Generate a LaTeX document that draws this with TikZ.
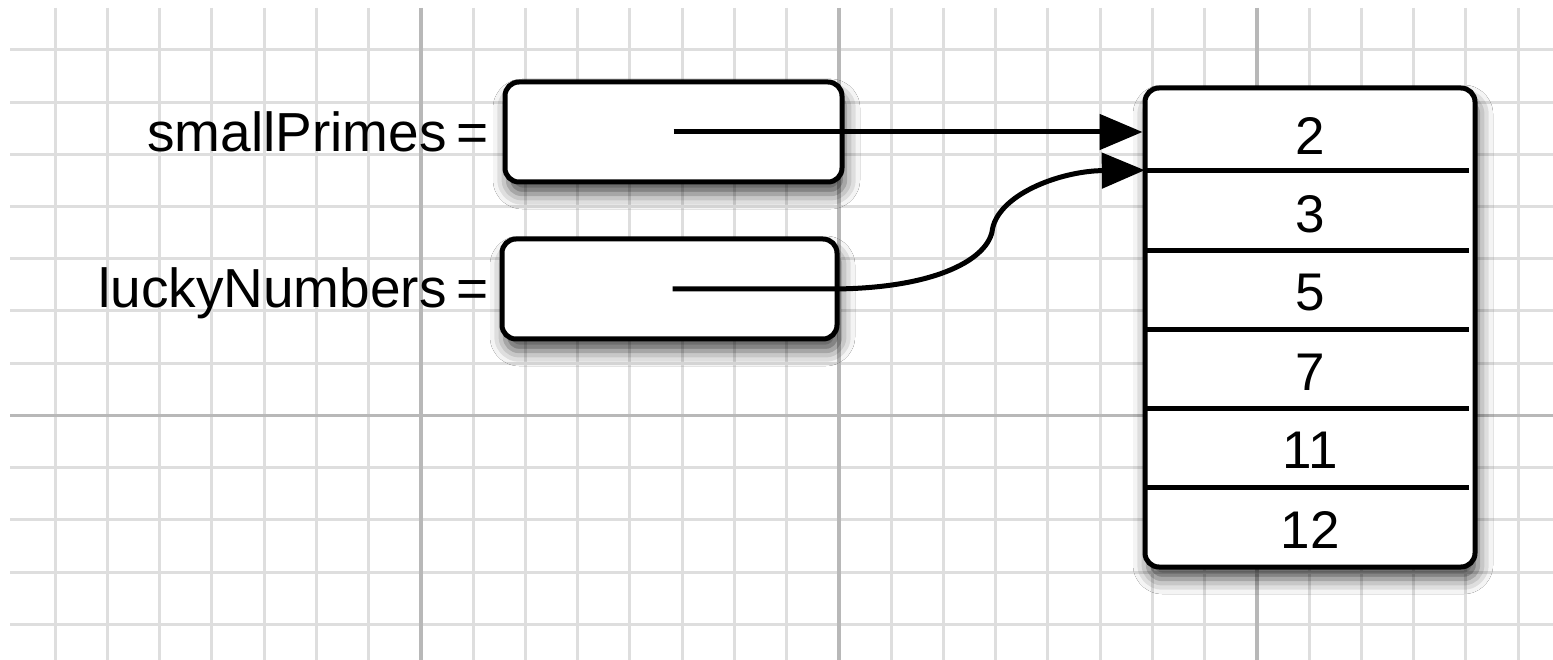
\documentclass[tikz,border=0pt]{standalone}
\usepackage{fontspec}
\setmainfont{Liberation Sans}
\usetikzlibrary{arrows.meta,shadows.blur}
\tikzset{
  minorline/.style={draw=black!13, line width=3pt},
  majorline/.style={draw=black!28, line width=3.5pt},
  varbox/.style={draw, line width=5pt, rounded corners=14pt, fill=white,
    blur shadow={shadow xshift=3pt, shadow yshift=-12pt, shadow blur radius=15pt, shadow opacity=70}},
  varlabel/.style={font=\fontsize{55}{60}\selectfont, inner sep=0pt, anchor=base east},
  num/.style={font=\fontsize{53}{60}\selectfont, inner sep=0pt, anchor=base},
  cell/.style={minimum width=330pt, minimum height=80pt, inner sep=0pt},
  divider/.style={line width=5pt},
  ref/.style={line width=5pt, -{Triangle[length=43pt,width=35pt]}},
}
\begin{document}
\begin{tikzpicture}[x=1pt,y=-1pt]
\useasboundingbox[fill=white] (0,0) rectangle (1553,660);
% grid
\foreach \i in {0,...,28}{
  \pgfmathsetmacro{\gx}{55+52.25*\i}
  \draw[minorline] (\gx,8) -- (\gx,660);
}
\foreach \j in {0,...,11}{
  \pgfmathsetmacro{\gy}{50+52.2*\j}
  \draw[minorline] (10,\gy) -- (1553,\gy);
}
\foreach \i in {7,15,23}{
  \pgfmathsetmacro{\gx}{55+52.25*\i}
  \draw[majorline] (\gx,8) -- (\gx,660);
}
\draw[majorline] (10,415.4) -- (1553,415.4);

% variable boxes
\node[varbox, minimum width=337pt, minimum height=100pt, inner sep=0pt] (sp) at (673.5,132) {};
\node[varbox, minimum width=335pt, minimum height=100pt, inner sep=0pt] (ln) at (669.5,289) {};
\node[varlabel] (lsp) at (489,152) {smallPrimes\hspace{10pt}=};
\node[varlabel] (lln) at (489,308) {luckyNumbers\hspace{10pt}=};

% array
\node[varbox, minimum width=330pt, minimum height=479pt, inner sep=0pt] (arr) at (1310,327.5) {};
\node[cell] (c1) at (1310,130) {};
\node[cell] (c2) at (1310,210) {};
\node[cell] (c3) at (1310,289) {};
\node[cell] (c4) at (1310,368) {};
\node[cell] (c5) at (1310,447) {};
\node[cell] (c6) at (1310,527) {};
\foreach \c in {c1,c2,c3,c4,c5}{
  \draw[divider] (\c.south west) -- ([xshift=-6pt]\c.south east);
}
\node[num] (n1) at ([yshift=-25pt]c1.center) {2};
\node[num] (n2) at ([yshift=-23pt]c2.center) {3};
\node[num] (n3) at ([yshift=-22pt]c3.center) {5};
\node[num] (n4) at ([yshift=-22pt]c4.center) {7};
\node[num] (n5) at ([yshift=-21pt]c5.center) {11};
\node[num] (n6) at ([yshift=-21pt]c6.center) {12};

% references
\draw[ref] ([xshift=3pt]ln.center) -- (830,289) .. controls (930,289) and (985,262) .. (992,232)
  .. controls (996,195) and (1060,171) .. (c1.south west);
\draw[ref] (sp.center) -- (sp.center -| arr.west);
\end{tikzpicture}
\end{document}
